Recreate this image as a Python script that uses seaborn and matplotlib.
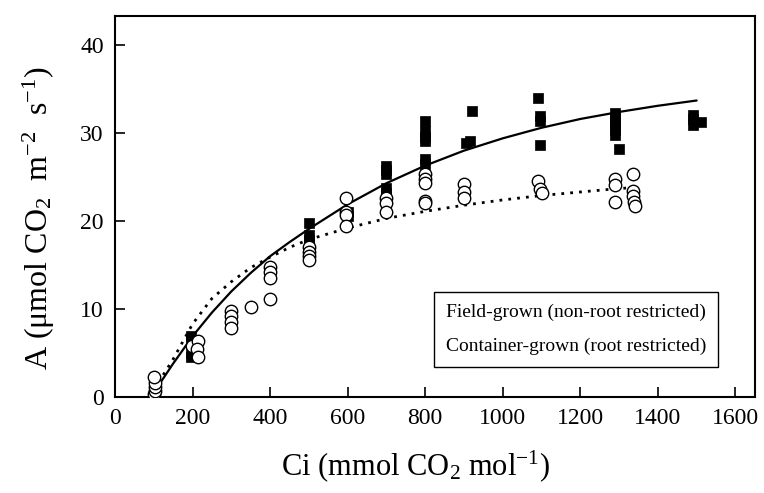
import matplotlib
matplotlib.use("Agg")
import matplotlib.pyplot as plt
import seaborn as sns
import pandas as pd
from matplotlib.lines import Line2D

# ---- data ----
field_x = [100, 100, 100,
           195, 195, 195, 195,
           400, 400,
           500, 500, 500, 500,
           600, 600,
           700, 700, 700, 700, 700, 700,
           800, 800, 800, 800, 800, 800,
           905, 915, 920,
           1090, 1095, 1095, 1095,
           1290, 1290, 1290, 1290, 1290, 1290, 1300,
           1490, 1490, 1490, 1510]
field_y = [0.2, 0.6, 1.0,
           6.9, 6.4, 5.0, 4.5,
           14.6, 14.0,
           19.8, 18.4, 17.9, 17.3,
           21.0, 20.6,
           26.3, 25.8, 25.3, 23.8, 23.2, 22.7,
           31.4, 30.2, 29.6, 29.1, 27.0, 26.5,
           28.9, 29.1, 32.5,
           34.0, 31.9, 31.4, 28.6,
           32.3, 31.8, 31.3, 30.8, 30.3, 29.8, 28.2,
           32.1, 31.6, 30.9, 31.2]

cont_x = [100, 102, 104, 103, 101,
          198, 215, 212, 213,
          300, 300, 300, 300,
          350,
          400, 400, 400, 400,
          500, 500, 500, 500,
          597, 597, 597, 597,
          700, 700, 700,
          800, 800, 800, 800, 800,
          900, 900, 900,
          1090, 1095, 1100,
          1290, 1290, 1290,
          1335, 1335, 1335, 1338, 1340]
cont_y = [0.3, 0.7, 1.1, 1.6, 2.3,
          5.8, 6.4, 5.4, 4.5,
          9.8, 9.2, 8.5, 7.8,
          10.2,
          14.8, 14.2, 13.5, 11.1,
          17.0, 16.5, 16.0, 15.6,
          22.6, 21.0, 20.7, 19.4,
          22.6, 22.1, 21.0,
          25.3, 24.8, 24.3, 22.3, 22.1,
          24.2, 23.3, 22.6,
          24.6, 23.6, 23.2,
          24.8, 24.1, 22.2,
          25.4, 23.4, 22.8, 22.2, 21.7]

# fitted curves
field_curve_x = [100, 150, 200, 250, 300, 350, 400, 450, 500, 600, 700, 800,
                 900, 1000, 1100, 1200, 1300, 1400, 1500]
field_curve_y = [0.5, 3.8, 6.9, 9.6, 12.0, 14.1, 16.0, 17.6, 19.1, 21.9, 24.3,
                 26.3, 28.0, 29.4, 30.6, 31.6, 32.4, 33.1, 33.7]
cont_curve_x = [100, 150, 200, 250, 300, 350, 400, 450, 500, 600, 700, 800,
                900, 1000, 1100, 1200, 1300, 1340]
cont_curve_y = [0.8, 4.3, 8.3, 11.2, 13.1, 14.7, 15.9, 17.0, 17.9, 19.2, 20.3,
                21.1, 21.8, 22.4, 22.9, 23.3, 23.7, 23.8]

labels = ["Field-grown (non-root restricted)", "Container-grown (root restricted)"]
x_ticks = [0, 200, 400, 600, 800, 1000, 1200, 1400, 1600]
y_ticks = [0, 10, 20, 30, 40]

# ---- style ----
sns.set_theme(style="white")
plt.rcParams["font.family"] = ["Liberation Serif", "DejaVu Serif"]
plt.rcParams["mathtext.fontset"] = "custom"
plt.rcParams["mathtext.rm"] = "Liberation Serif"
plt.rcParams["mathtext.it"] = "Liberation Serif:italic"
plt.rcParams["mathtext.default"] = "regular"
plt.rcParams["text.color"] = "black"
plt.rcParams["axes.labelcolor"] = "black"
plt.rcParams["xtick.color"] = "black"
plt.rcParams["ytick.color"] = "black"

fig = plt.figure(figsize=(7.64, 4.93), dpi=100)
ax = fig.add_axes([0.1505, 0.1947, 0.8375, 0.7728])

df_f = pd.DataFrame({"x": field_x, "y": field_y})
df_c = pd.DataFrame({"x": cont_x, "y": cont_y})
df_fc = pd.DataFrame({"x": field_curve_x, "y": field_curve_y})
df_cc = pd.DataFrame({"x": cont_curve_x, "y": cont_curve_y})

sns.scatterplot(data=df_f, x="x", y="y", marker="s", s=55, color="black",
                edgecolor="black", linewidth=0.5, ax=ax, zorder=2, legend=False)
sns.lineplot(data=df_fc, x="x", y="y", color="black", lw=1.6, ax=ax,
             sort=False, estimator=None, zorder=3, legend=False)
sns.lineplot(data=df_cc, x="x", y="y", color="black", lw=2.0, ax=ax,
             sort=False, estimator=None, zorder=3, legend=False)
ax.lines[-1].set_linestyle((0, (1, 2.2)))
sns.scatterplot(data=df_c, x="x", y="y", marker="o", s=80, color="white",
                edgecolor="black", linewidth=1.0, ax=ax, zorder=4, legend=False)

ax.set_xlim(0, 1650)
ax.set_ylim(0, 43.3)
ax.set_xticks(x_ticks)
ax.set_yticks(y_ticks)
ax.tick_params(axis="both", direction="in", length=7, width=1.2,
               labelsize=17, pad=8, colors="black", bottom=True, left=True,
               top=False, right=False)
for sp in ax.spines.values():
    sp.set_color("black")
    sp.set_linewidth(1.5)

ax.set_xlabel(r"Ci (mmol CO$_2$ mol$^{-1}$)", fontsize=22)
ax.set_ylabel(r"A (μmol CO$_2$  m$^{-2}$  s$^{-1}$)", fontsize=23)
ax.xaxis.set_label_coords(0.47, -0.135)
ax.yaxis.set_label_coords(-0.09, 0.47)

handles = [Line2D([], [], linestyle="none", marker=None) for _ in labels]
leg = ax.legend(handles, labels, loc="lower right", bbox_to_anchor=(0.942, 0.079),
                borderaxespad=0, handlelength=0, handletextpad=0, fontsize=14,
                frameon=True, fancybox=False, edgecolor="black", framealpha=1,
                borderpad=0.6, labelspacing=0.85)
leg.get_frame().set_linewidth(1.0)

fig.savefig("out.png", dpi=100)
